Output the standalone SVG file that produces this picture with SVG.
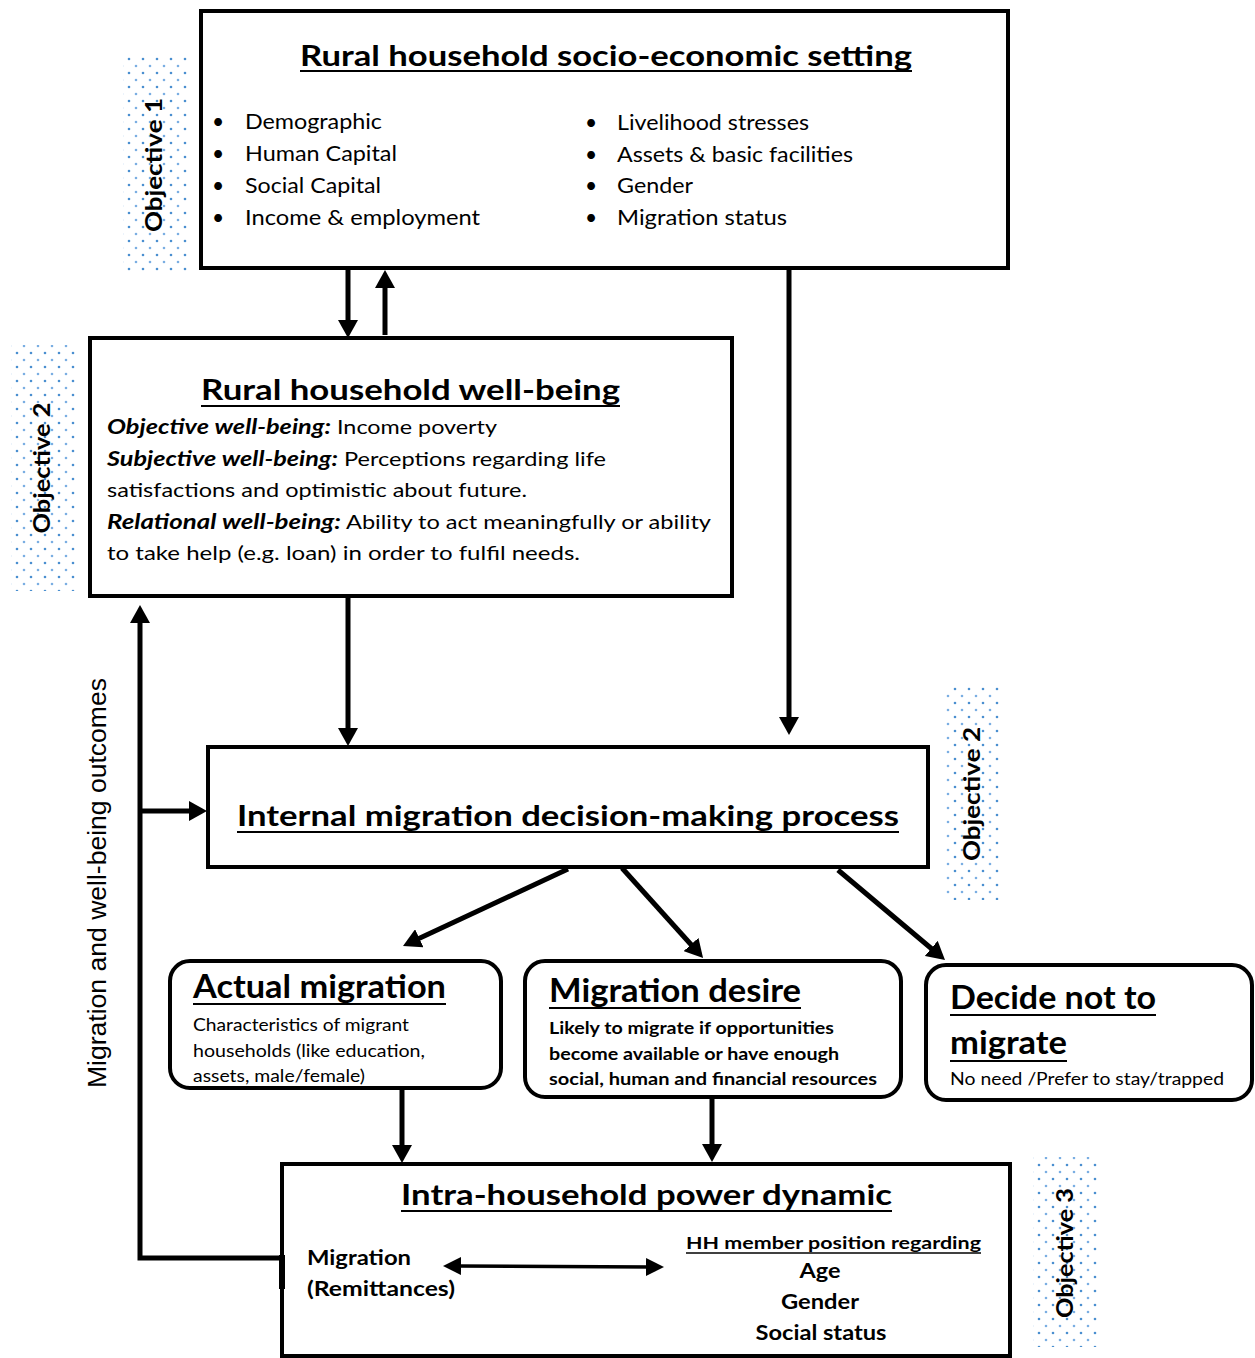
<svg xmlns="http://www.w3.org/2000/svg" width="1255" height="1358" viewBox="0 0 1255 1358">
<defs>
<pattern id="dots" width="14" height="14" patternUnits="userSpaceOnUse">
<circle cx="3" cy="3" r="1.3" fill="#4a8fd0"/>
<circle cx="10" cy="10" r="1.3" fill="#7aaee2"/>
</pattern>
<marker id="ah" markerUnits="userSpaceOnUse" markerWidth="20" markerHeight="20" refX="4" refY="10" orient="auto">
<path d="M0,0 L18,10 L0,20 z" fill="#000"/>
</marker>
<marker id="ah2" markerUnits="userSpaceOnUse" markerWidth="20" markerHeight="20" refX="4" refY="9" orient="auto-start-reverse">
<path d="M0,0 L18,9 L0,18 z" fill="#000"/>
</marker>
<style>
.box{fill:#fff;stroke:#000;stroke-width:4}
.t{font-family:Lato,"Noto Sans",sans-serif;fill:#000}
.b{font-weight:bold}
.bi{font-weight:bold;font-style:italic}
.ul{stroke:#000;stroke-width:2}
.obj{font-family:Lato,"Noto Sans",sans-serif;font-weight:bold;font-size:22px;fill:#000}
.con{stroke:#000;stroke-width:5;fill:none}
</style>
</defs>

<!-- Objective labels -->
<g id="objective1">
<rect x="123" y="57" width="64" height="215" fill="url(#dots)"/>
<text class="obj" transform="translate(162,165) rotate(-90)" text-anchor="middle" textLength="134" lengthAdjust="spacingAndGlyphs">Objective 1</text>
</g>
<g id="objective2a">
<rect x="11" y="345" width="66" height="246" fill="url(#dots)"/>
<text class="obj" transform="translate(50,468) rotate(-90)" text-anchor="middle" textLength="131" lengthAdjust="spacingAndGlyphs">Objective 2</text>
</g>
<g id="objective2b">
<rect x="943" y="684" width="56" height="216" fill="url(#dots)"/>
<text class="obj" transform="translate(980,794) rotate(-90)" text-anchor="middle" textLength="134" lengthAdjust="spacingAndGlyphs">Objective 2</text>
</g>
<g id="objective3">
<rect x="1033" y="1157" width="64" height="190" fill="url(#dots)"/>
<text class="obj" transform="translate(1073,1253) rotate(-90)" text-anchor="middle" textLength="130" lengthAdjust="spacingAndGlyphs">Objective 3</text>
</g>

<!-- Top box -->
<g id="setting">
<rect class="box" x="201" y="11" width="807" height="257"/>
<text class="t b" x="300" y="66" font-size="28" textLength="612" lengthAdjust="spacingAndGlyphs">Rural household socio-economic setting</text>
<line class="ul" x1="300" y1="71" x2="912" y2="71"/>
<g font-size="21">
<text class="t" x="212" y="129">•</text>
<text class="t" x="212" y="161">•</text>
<text class="t" x="212" y="193">•</text>
<text class="t" x="212" y="225">•</text>
<text class="t" x="585" y="130">•</text>
<text class="t" x="585" y="162">•</text>
<text class="t" x="585" y="193">•</text>
<text class="t" x="585" y="225">•</text>
<text class="t" x="245" y="129" textLength="137" lengthAdjust="spacingAndGlyphs">Demographic</text>
<text class="t" x="245" y="161" textLength="152" lengthAdjust="spacingAndGlyphs">Human Capital</text>
<text class="t" x="245" y="193" textLength="136" lengthAdjust="spacingAndGlyphs">Social Capital</text>
<text class="t" x="245" y="225" textLength="235" lengthAdjust="spacingAndGlyphs">Income &amp; employment</text>
<text class="t" x="617" y="130" textLength="192" lengthAdjust="spacingAndGlyphs">Livelihood stresses</text>
<text class="t" x="617" y="162" textLength="236" lengthAdjust="spacingAndGlyphs">Assets &amp; basic facilities</text>
<text class="t" x="617" y="193" textLength="76" lengthAdjust="spacingAndGlyphs">Gender</text>
<text class="t" x="617" y="225" textLength="170" lengthAdjust="spacingAndGlyphs">Migration status</text>
</g>
</g>

<!-- Well-being box -->
<g id="wellbeing">
<rect class="box" x="90" y="338" width="642" height="258"/>
<text class="t b" x="201" y="400" font-size="29" textLength="419" lengthAdjust="spacingAndGlyphs">Rural household well-being</text>
<line class="ul" x1="201" y1="406" x2="620" y2="406"/>
<g font-size="20">
<text class="t bi" x="107" y="434" textLength="224" lengthAdjust="spacingAndGlyphs">Objective well-being:</text>
<text class="t" x="337" y="434" textLength="160" lengthAdjust="spacingAndGlyphs">Income poverty</text>
<text class="t bi" x="107" y="466" textLength="231" lengthAdjust="spacingAndGlyphs">Subjective well-being:</text>
<text class="t" x="344" y="466" textLength="262" lengthAdjust="spacingAndGlyphs">Perceptions regarding life</text>
<text class="t" x="107" y="497" textLength="420" lengthAdjust="spacingAndGlyphs">satisfactions and optimistic about future.</text>
<text class="t bi" x="107" y="529" textLength="234" lengthAdjust="spacingAndGlyphs">Relational well-being:</text>
<text class="t" x="346" y="529" textLength="365" lengthAdjust="spacingAndGlyphs">Ability to act meaningfully or ability</text>
<text class="t" x="107" y="560" textLength="473" lengthAdjust="spacingAndGlyphs">to take help (e.g. loan) in order to fulfil needs.</text>
</g>
</g>

<!-- Internal migration box -->
<g id="decision">
<rect class="box" x="208" y="747" width="720" height="120"/>
<text class="t b" x="237" y="826" font-size="29" textLength="662" lengthAdjust="spacingAndGlyphs">Internal migration decision-making process</text>
<line class="ul" x1="237" y1="832" x2="899" y2="832"/>
</g>

<!-- Actual migration -->
<g id="actual">
<rect class="box" x="170" y="961" width="331" height="127" rx="20"/>
<text class="t b" x="193" y="998" font-size="32" textLength="253" lengthAdjust="spacingAndGlyphs">Actual migration</text>
<line class="ul" x1="193" y1="1004" x2="446" y2="1004"/>
<g font-size="17.5">
<text class="t" x="193" y="1031" textLength="216" lengthAdjust="spacingAndGlyphs">Characteristics of migrant</text>
<text class="t" x="193" y="1057" textLength="232" lengthAdjust="spacingAndGlyphs">households (like education,</text>
<text class="t" x="193" y="1082" textLength="172" lengthAdjust="spacingAndGlyphs">assets, male/female)</text>
</g>
</g>

<!-- Migration desire -->
<g id="desire">
<rect class="box" x="525" y="961" width="376" height="136" rx="20"/>
<text class="t b" x="549" y="1002" font-size="32" textLength="252" lengthAdjust="spacingAndGlyphs">Migration desire</text>
<line class="ul" x1="549" y1="1008" x2="801" y2="1008"/>
<g font-size="17">
<text class="t b" x="549" y="1034" textLength="285" lengthAdjust="spacingAndGlyphs">Likely to migrate if opportunities</text>
<text class="t b" x="549" y="1060" textLength="290" lengthAdjust="spacingAndGlyphs">become available or have enough</text>
<text class="t b" x="549" y="1085" textLength="328" lengthAdjust="spacingAndGlyphs">social, human and financial resources</text>
</g>
</g>

<!-- Decide not to migrate -->
<g id="notmigrate">
<rect class="box" x="926" y="965" width="326" height="135" rx="20"/>
<text class="t b" x="950" y="1009" font-size="32" textLength="206" lengthAdjust="spacingAndGlyphs">Decide not to</text>
<line class="ul" x1="950" y1="1015" x2="1156" y2="1015"/>
<text class="t b" x="950" y="1054" font-size="32" textLength="117" lengthAdjust="spacingAndGlyphs">migrate</text>
<line class="ul" x1="950" y1="1061" x2="1067" y2="1061"/>
<text class="t" x="950" y="1085" font-size="17.5" textLength="274" lengthAdjust="spacingAndGlyphs">No need /Prefer to stay/trapped</text>
</g>

<!-- Intra-household power dynamic -->
<g id="power">
<rect class="box" x="282" y="1164" width="728" height="192"/>
<text class="t b" x="401" y="1205" font-size="28" textLength="491" lengthAdjust="spacingAndGlyphs">Intra-household power dynamic</text>
<line class="ul" x1="401" y1="1211" x2="892" y2="1211"/>
<text class="t b" x="307" y="1265" font-size="21" textLength="104" lengthAdjust="spacingAndGlyphs">Migration</text>
<text class="t b" x="307" y="1296" font-size="21" textLength="148" lengthAdjust="spacingAndGlyphs">(Remittances)</text>
<text class="t b" x="686" y="1249" font-size="17" textLength="295" lengthAdjust="spacingAndGlyphs">HH member position regarding</text>
<line x1="686" y1="1253" x2="981" y2="1253" stroke="#000" stroke-width="1.5"/>
<text class="t b" x="820" y="1278" font-size="21" text-anchor="middle" textLength="41" lengthAdjust="spacingAndGlyphs">Age</text>
<text class="t b" x="820" y="1309" font-size="21" text-anchor="middle" textLength="78" lengthAdjust="spacingAndGlyphs">Gender</text>
<text class="t b" x="821" y="1340" font-size="21" text-anchor="middle" textLength="131" lengthAdjust="spacingAndGlyphs">Social status</text>
</g>

<!-- Connectors -->
<g id="connectors">
<line class="con" x1="348" y1="270" x2="348" y2="324" marker-end="url(#ah)"/>
<line class="con" x1="385" y1="335" x2="385" y2="284" marker-end="url(#ah)"/>
<line class="con" x1="789" y1="270" x2="789" y2="721" marker-end="url(#ah)"/>
<line class="con" x1="348" y1="598" x2="348" y2="732" marker-end="url(#ah)"/>
<line class="con" x1="568" y1="869" x2="415.7" y2="940" marker-end="url(#ah)"/>
<line class="con" x1="622" y1="868" x2="693.7" y2="947.5" marker-end="url(#ah)"/>
<line class="con" x1="838" y1="870" x2="934.3" y2="951" marker-end="url(#ah)"/>
<line class="con" x1="402" y1="1090" x2="402" y2="1149" marker-end="url(#ah)"/>
<line class="con" x1="712" y1="1099" x2="712" y2="1148" marker-end="url(#ah)"/>
<polyline class="con" points="280,1258 140,1258 140,619" stroke-width="6" marker-end="url(#ah)"/>
<line class="con" x1="140" y1="811" x2="193" y2="811" marker-end="url(#ah)"/>
<rect x="279" y="1255" width="6" height="34" fill="#000"/>
<line x1="457" y1="1266" x2="650" y2="1267" stroke="#000" stroke-width="3.5" marker-start="url(#ah2)" marker-end="url(#ah2)"/>
<text transform="translate(106,883) rotate(-90)" text-anchor="middle" style="font-family:'Liberation Sans',Arial,sans-serif" font-size="26" fill="#000" textLength="410" lengthAdjust="spacingAndGlyphs">Migration and well-being outcomes</text>
</g>
</svg>
